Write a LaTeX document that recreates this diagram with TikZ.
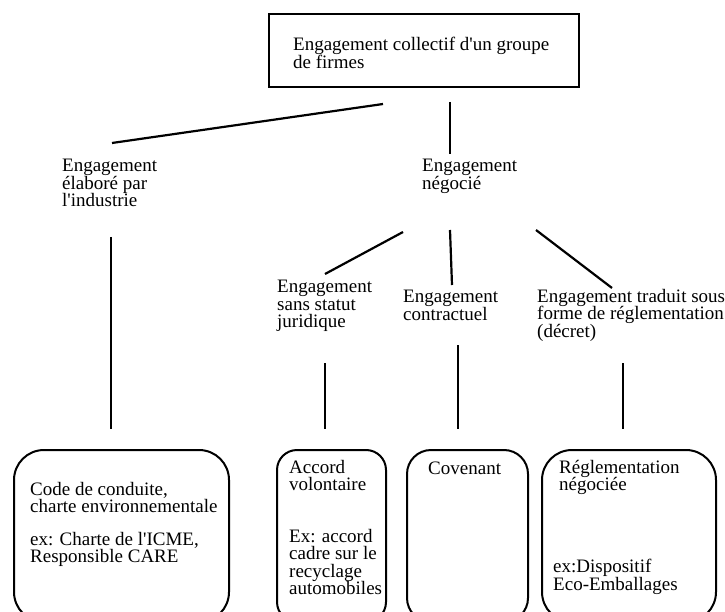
\documentclass[tikz,border=0pt]{standalone}
\usepackage{fontspec}
\setmainfont{Liberation Serif}
\usepackage{tikz}
\usetikzlibrary{calc}

\begin{document}
\begin{tikzpicture}[x=1pt,y=-1pt,
    txt/.style={anchor=north west,inner sep=0pt,align=left,font=\fontsize{19}{17.5}\selectfont},
    rbox/.style={draw,line width=2pt,rounded corners=#1,anchor=north west,inner sep=0pt},
    link/.style={line width=2.2pt}]
    \useasboundingbox (0,0) rectangle (725,612);
    \clip (0,0) rectangle (725,612);
    %top box
    \node[draw,line width=2pt,anchor=north west,minimum width=310pt,minimum height=73pt] (top) at (268,13) {};
    \node[txt] (toptxt) at (293,37) {Engagement collectif d\textquotesingle un groupe\\de firmes};
    %level 1
    \node[txt] (indus) at (62,159) {Engagement\\élaboré par\\l\textquotesingle industrie};
    \node[txt] (nego) at (422,159) {Engagement\\négocié};
    %level 2
    \node[txt] (sans) at (277,280) {Engagement\\sans statut\\juridique};
    \node[txt] (contr) at (403,290) {Engagement\\contractuel};
    \node[txt] (decret) at (537,289) {Engagement traduit sous\\forme de réglementation\\(décret)};
    %bottom boxes
    \node[rbox=30pt,minimum width=215pt,minimum height=172pt] (code) at (13,449) {};
    \node[rbox=20pt,minimum width=109pt,minimum height=172pt] (accord) at (276,449) {};
    \node[rbox=24pt,minimum width=121pt,minimum height=172pt] (coven) at (406,449) {};
    \node[rbox=30pt,minimum width=174pt,minimum height=172pt] (regl) at (541,449) {};
    \node[txt] (codetxt) at (30,482) {Code de conduite,\\charte environnementale\\[15pt]ex: Charte de l\textquotesingle ICME,\\Responsible CARE};
    \node[txt] (accordtxt) at (289,460) {Accord\\volontaire\\[34pt]Ex: accord\\cadre sur le\\recyclage\\automobiles};
    \node[txt] (coventxt) at (428,462) {Covenant};
    \node[txt] (regltxt) at (559,460) {Réglementation\\négociée};
    \node[txt] (reglex) at (553,559) {ex:Dispositif\\Eco-Emballages};
    %line ends
    \coordinate (t1) at (383,104);
    \coordinate (i1) at (112,143);
    \coordinate (t2) at (450,102);
    \coordinate (n1) at (450,154);
    \coordinate (i2) at (111,237);
    \coordinate (c1) at (111,429);
    \coordinate (n2) at (403,232);
    \coordinate (s1) at (325,274);
    \coordinate (n3) at (450,230);
    \coordinate (k1) at (452,285);
    \coordinate (n4) at (536,230);
    \coordinate (d1) at (612,288);
    \coordinate (s2) at (325,363);
    \coordinate (a1) at (325,429);
    \coordinate (k2) at (458,345);
    \coordinate (v1) at (458,429);
    \coordinate (d2) at (623,363);
    \coordinate (r1) at (623,429);
    %lines
    \draw[link] (t1) -- (i1);
    \draw[link] (t2) -- (n1);
    \draw[link] (i2) -- (c1);
    \draw[link] (n2) -- (s1);
    \draw[link] (n3) -- (k1);
    \draw[link] (n4) -- (d1);
    \draw[link] (s2) -- (a1);
    \draw[link] (k2) -- (v1);
    \draw[link] (d2) -- (r1);
\end{tikzpicture}
\end{document}
